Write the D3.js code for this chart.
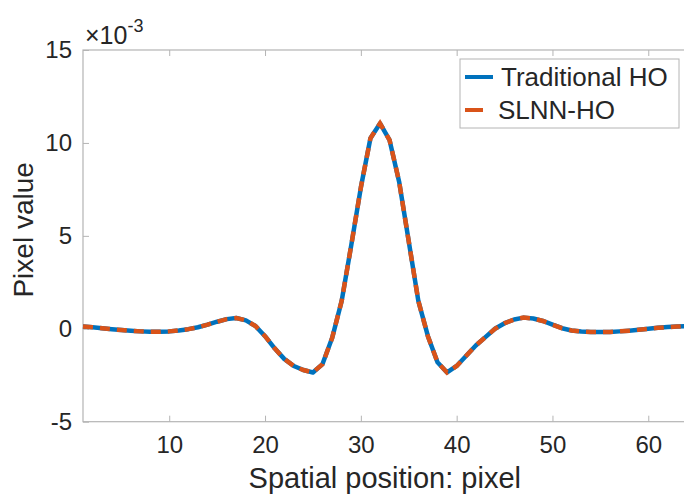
<!DOCTYPE html>
<html lang="en">
<head>
    <meta charset="UTF-8">
    <title>Traditional HO vs SLNN-HO</title>
    <script src="https://d3js.org/d3.v7.min.js"></script>
    <style>
        body { margin: 0; background: #fff; }
        text { font-family: "Liberation Sans", Arial, Helvetica, sans-serif; fill: #262626; }
    </style>
</head>
<body>
    <svg id="chart" width="684" height="498"></svg>

    <script>
        // spatial position (pixel index) and values, in units of 1e-3
        const positions = d3.range(1, 65);
        const traditionalHO = [
            0.12, 0.08, 0.03, -0.02, -0.07, -0.11, -0.14, -0.16, -0.16, -0.14,
            -0.09, -0.02, 0.08, 0.22, 0.38, 0.52, 0.58, 0.45, 0.15, -0.40,
            -1.05, -1.62, -2.00, -2.22, -2.35, -1.90, -0.50, 1.50, 4.50, 7.60,
            10.25, 11.05, 10.15, 7.90, 4.70, 1.50, -0.40, -1.80, -2.35, -2.00,
            -1.45, -0.90, -0.45, 0.00, 0.30, 0.50, 0.60, 0.55, 0.42, 0.22,
            0.03, -0.09, -0.15, -0.18, -0.18, -0.17, -0.14, -0.10, -0.05, 0.00,
            0.05, 0.09, 0.12, 0.14
        ];
        const slnnHO = [
            0.12, 0.08, 0.03, -0.02, -0.07, -0.11, -0.14, -0.16, -0.16, -0.14,
            -0.09, -0.02, 0.08, 0.22, 0.38, 0.52, 0.58, 0.45, 0.15, -0.40,
            -1.05, -1.62, -2.00, -2.22, -2.35, -1.90, -0.50, 1.50, 4.50, 7.60,
            10.25, 11.05, 10.15, 7.90, 4.70, 1.50, -0.40, -1.80, -2.35, -2.00,
            -1.45, -0.90, -0.45, 0.00, 0.30, 0.50, 0.60, 0.55, 0.42, 0.22,
            0.03, -0.09, -0.15, -0.18, -0.18, -0.17, -0.14, -0.10, -0.05, 0.00,
            0.05, 0.09, 0.12, 0.14
        ];
        const xTicks = [10, 20, 30, 40, 50, 60];
        const yTicks = [-5, 0, 5, 10, 15];
        const seriesNames = ['Traditional HO', 'SLNN-HO'];

        const svg = d3.select('#chart');
        const plot = { left: 83, right: 686.6, top: 50, bottom: 421.7 };

        const x = d3.scaleLinear().domain([1, 64]).range([plot.left, plot.right]);
        const y = d3.scaleLinear().domain([-5, 15]).range([plot.bottom, plot.top]);

        const axisColor = '#b4b4b4';

        // box
        svg.append('rect')
            .attr('x', plot.left).attr('y', plot.top)
            .attr('width', plot.right - plot.left).attr('height', plot.bottom - plot.top)
            .attr('fill', 'none').attr('stroke', axisColor).attr('stroke-width', 1.2);

        // bottom axis, ticks inside
        const xAxis = svg.append('g')
            .attr('transform', `translate(0,${plot.bottom})`)
            .call(d3.axisBottom(x).tickValues(xTicks).tickSize(-6).tickPadding(14));
        xAxis.select('.domain').remove();
        xAxis.selectAll('line').attr('stroke', axisColor);
        xAxis.selectAll('text').style('font-size', '24px').attr('fill', '#262626');

        // top ticks
        const xTop = svg.append('g')
            .attr('transform', `translate(0,${plot.top})`)
            .call(d3.axisTop(x).tickValues(xTicks).tickSize(-6).tickFormat(''));
        xTop.select('.domain').remove();
        xTop.selectAll('line').attr('stroke', axisColor);

        // left axis
        const yAxis = svg.append('g')
            .attr('transform', `translate(${plot.left},0)`)
            .call(d3.axisLeft(y).tickValues(yTicks).tickSize(-6).tickPadding(11));
        yAxis.select('.domain').remove();
        yAxis.selectAll('line').attr('stroke', axisColor);
        yAxis.selectAll('text').style('font-size', '24px').attr('fill', '#262626')
            .text(d => d < 0 ? '-' + Math.abs(d) : d);

        // exponent label
        const expo = svg.append('text')
            .attr('x', 85).attr('y', 44)
            .style('font-size', '25px');
        expo.append('tspan').text('\u00d710');
        expo.append('tspan').attr('dy', -12).style('font-size', '18px').text('-3');

        // axis labels
        svg.append('text')
            .attr('x', (plot.left + plot.right) / 2 - 0).attr('y', 488)
            .attr('text-anchor', 'middle')
            .style('font-size', '29px')
            .text('Spatial position: pixel');

        svg.append('text')
            .attr('transform', `translate(33,${(plot.top + plot.bottom) / 2 - 6}) rotate(-90)`)
            .attr('text-anchor', 'middle')
            .style('font-size', '28px')
            .text('Pixel value');

        // lines
        const line = d3.line()
            .x((d, i) => x(positions[i]))
            .y(d => y(d));

        svg.append('path')
            .datum(traditionalHO)
            .attr('fill', 'none')
            .attr('stroke', '#0072BD')
            .attr('stroke-width', 4.5)
            .attr('stroke-linejoin', 'round')
            .attr('d', line);

        svg.append('path')
            .datum(slnnHO)
            .attr('fill', 'none')
            .attr('stroke', '#D95319')
            .attr('stroke-width', 4.5)
            .attr('stroke-dasharray', '10,7')
            .attr('d', line);

        // legend
        const legend = svg.append('g').attr('transform', 'translate(460,59)');
        legend.append('rect')
            .attr('width', 219).attr('height', 69)
            .attr('fill', '#fff').attr('stroke', axisColor).attr('stroke-width', 1);

        const legendColors = ['#0072BD', '#D95319'];
        const items = legend.selectAll('.legend-item')
            .data(seriesNames)
            .enter().append('g')
            .attr('class', 'legend-item')
            .attr('transform', (d, i) => `translate(0,${18 + i * 33})`);

        items.append('line')
            .attr('x1', 5).attr('x2', 33)
            .attr('stroke', (d, i) => legendColors[i])
            .attr('stroke-width', 4)
            .attr('stroke-dasharray', (d, i) => i === 0 ? null : '18,10');

        items.append('text')
            .attr('x', (d, i) => i === 0 ? 41 : 38)
            .attr('y', 9)
            .style('font-size', '26px')
            .text(d => d);
    </script>
</body>
</html>
